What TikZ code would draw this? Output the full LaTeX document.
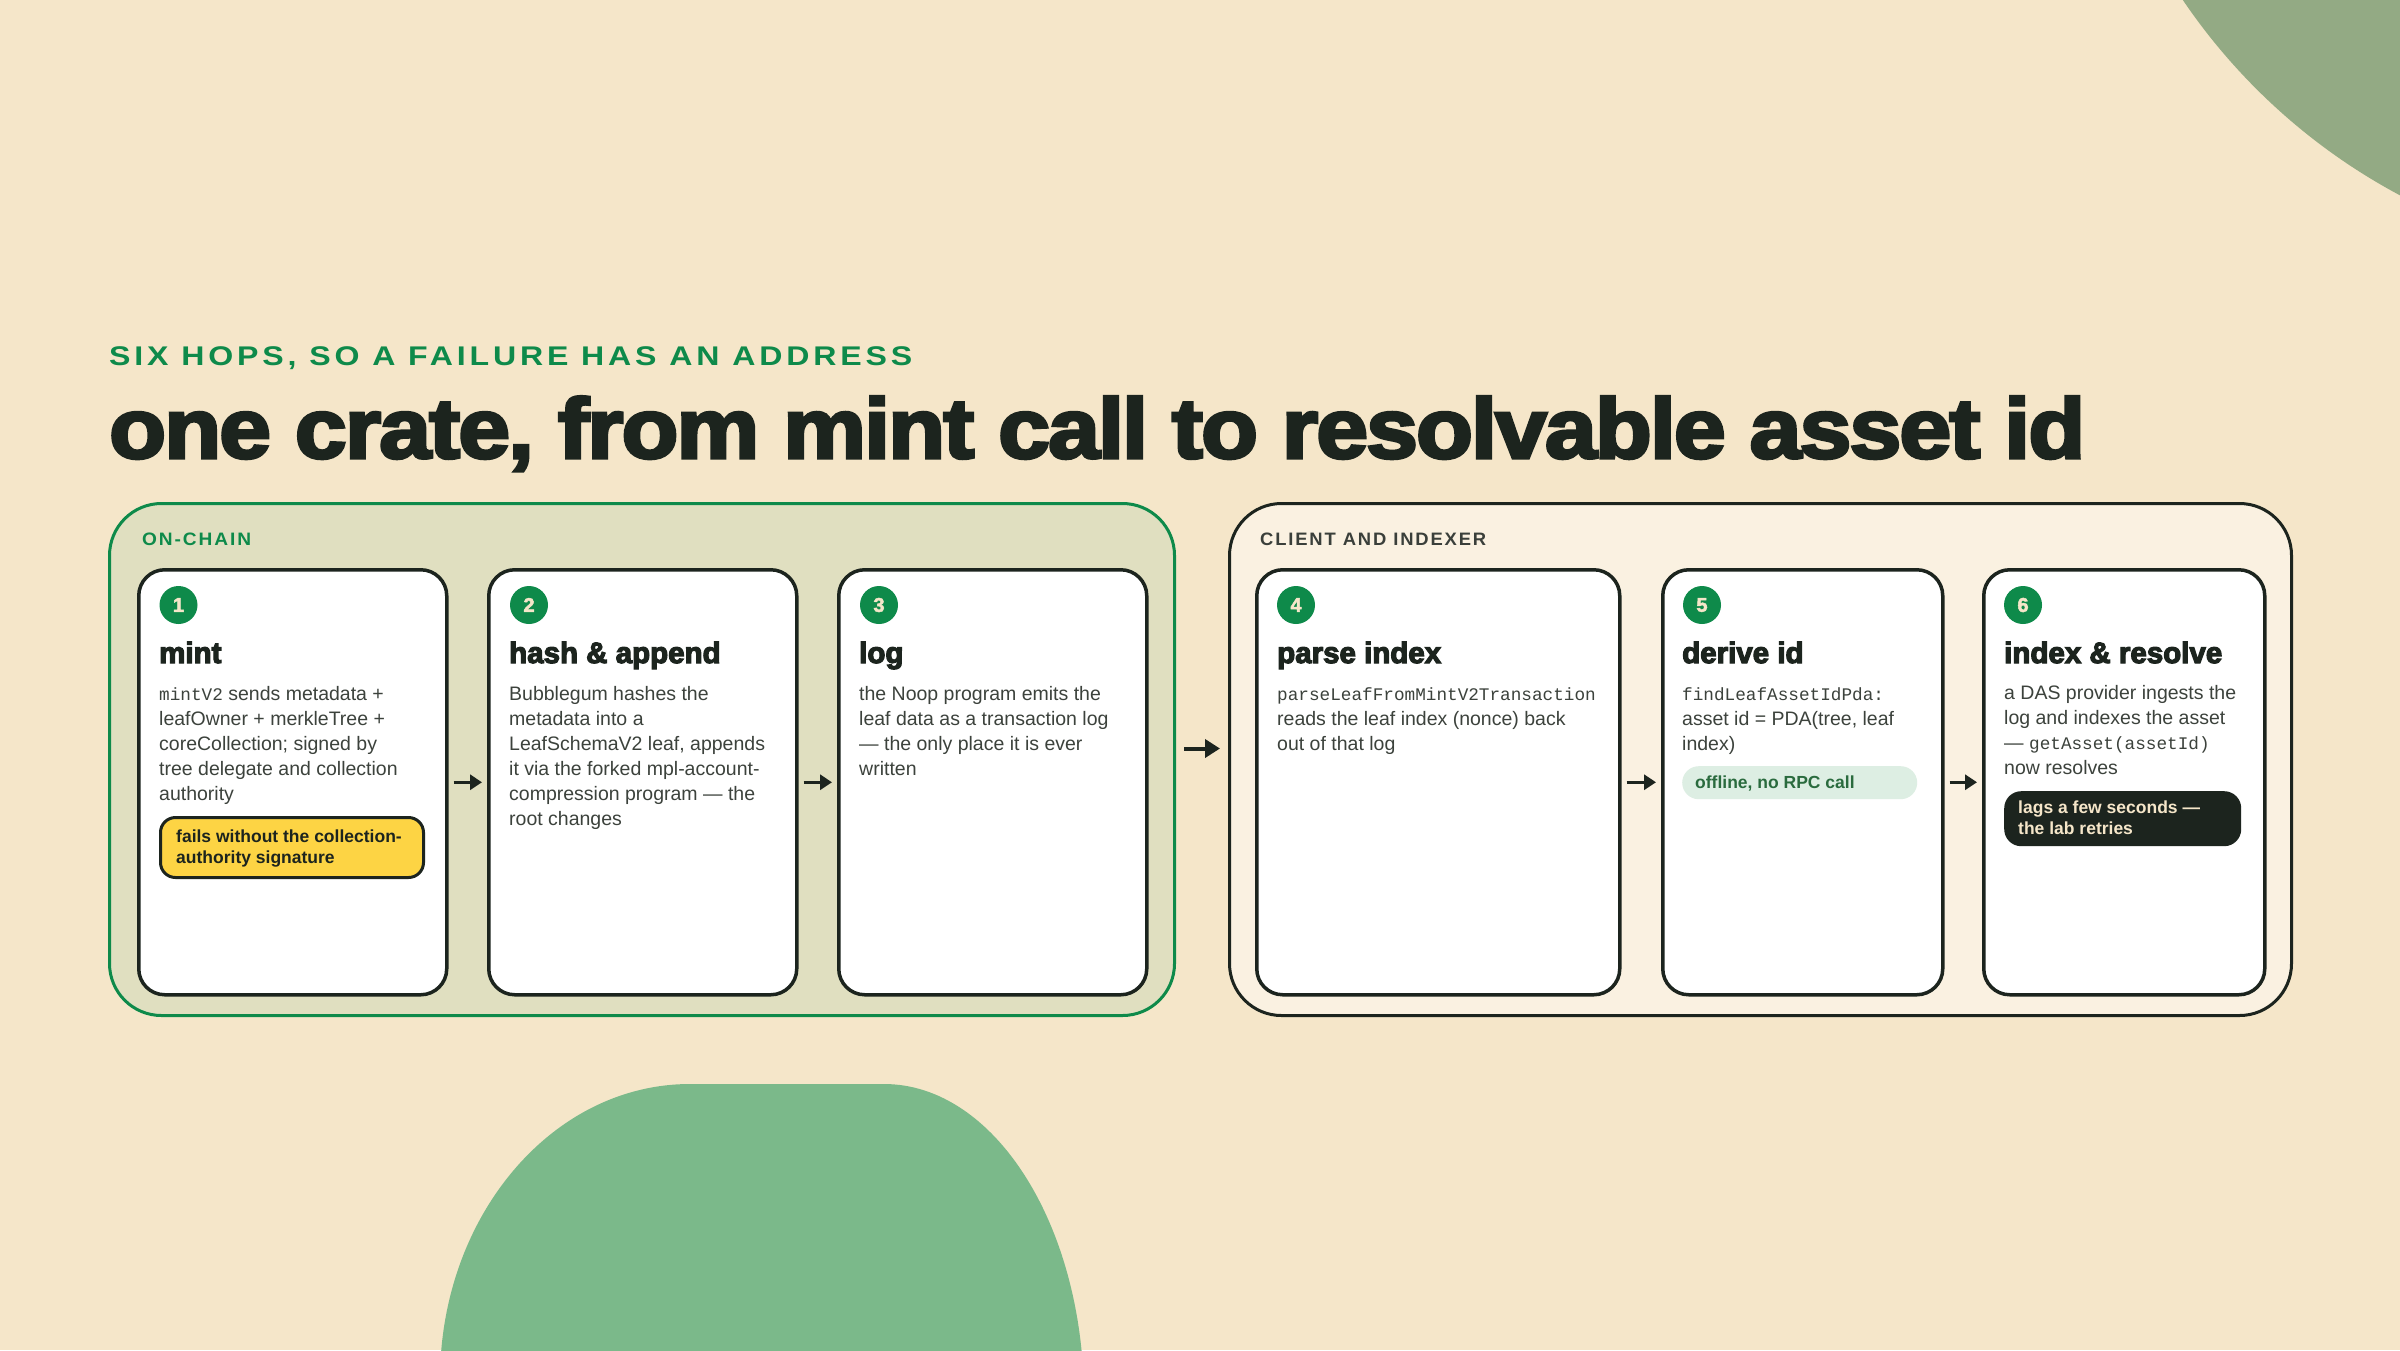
\documentclass[tikz,border=0pt]{standalone}
\usepackage{fontspec}
\usepackage{graphicx}
\setmainfont{Liberation Sans}
\setmonofont{Liberation Mono}
\newfontfamily\heavyfont{Liberation Sans Bold}[FakeBold=4]
\newfontfamily\titlefont{Liberation Sans Bold}[FakeBold=3.5, LetterSpace=-2]
\newfontfamily\badgefont{Liberation Sans Bold}[FakeBold=2.5]
\usetikzlibrary{arrows.meta}
\definecolor{bg}{HTML}{F5E6C9}
\definecolor{ink}{HTML}{1C241E}
\definecolor{greenA}{HTML}{0E8A4A}
\definecolor{oliveA}{HTML}{E0DFC0}
\definecolor{creamB}{HTML}{FAF1E1}
\definecolor{bodyc}{HTML}{3C423C}
\definecolor{labgrey}{HTML}{3A3F3A}
\definecolor{yellowA}{HTML}{FDD444}
\definecolor{mintA}{HTML}{DDEEE3}
\definecolor{mintT}{HTML}{2A6B3E}
\definecolor{sage}{HTML}{93AA84}
\definecolor{leafg}{HTML}{7BB98A}
\newcommand\cmono[1]{{\ttfamily\fontsize{17.7pt}{25pt}\selectfont #1}}
\tikzset{
  panelA/.style={draw=greenA, line width=3pt, fill=oliveA, rounded corners=52pt, anchor=north west, minimum height=512pt, inner sep=0},
  panelB/.style={draw=ink, line width=3pt, fill=creamB, rounded corners=52pt, anchor=north west, minimum height=512pt, inner sep=0},
  card/.style={draw=ink, line width=3.5pt, fill=white, rounded corners=26pt, anchor=north west, minimum height=425pt, inner sep=0},
  badge/.style={circle, fill=greenA, minimum size=38pt, inner sep=0, text=bg, font=\badgefont\fontsize{20pt}{20pt}\selectfont},
  ctitle/.style={anchor=base west, inner sep=0, text=ink, font=\heavyfont\fontsize{29.5pt}{30pt}\selectfont},
  body/.style={anchor=base west, inner sep=0, text=bodyc, font=\fontsize{19.5pt}{25pt}\selectfont},
  lab/.style={anchor=base west, inner sep=0, font=\bfseries\fontsize{18pt}{18pt}\selectfont},
  arr/.style={draw=ink, line width=3.5pt, -{Triangle[length=12pt,width=15pt]}},
  bigarr/.style={draw=ink, line width=4pt, -{Triangle[length=15pt,width=18pt]}},
  pilltext/.style={anchor=base west, inner sep=0, font=\bfseries\fontsize{17.5pt}{21pt}\selectfont},
}
\begin{document}
\begin{tikzpicture}[x=1pt,y=-1pt]
\useasboundingbox (0,0) rectangle (2400,1350);
\fill[bg] (0,0) rectangle (2400,1350);
\begin{scope}
\clip (0,0) rectangle (2400,1350);
\fill[sage] (2684,-339) circle[radius=605pt];
\fill[leafg] (440,1400) -- (440,1380) .. controls (440,1216.5) and (552,1084) .. (690,1084)
  -- (884,1084) .. controls (994.5,1084) and (1084,1225.5) .. (1084,1400) -- cycle;
\end{scope}

% headings
\node[anchor=base west, inner sep=0, text=greenA] (sub) at (109,365)
  {\resizebox{803pt}{\height}{\bfseries\fontsize{27pt}{27pt}\selectfont\addfontfeatures{LetterSpace=12}SIX HOPS, SO A FAILURE HAS AN ADDRESS}};
\node[anchor=base west, inner sep=0, text=ink] (title) at (109,458)
  {\resizebox{1976pt}{\height}{\titlefont\fontsize{85pt}{90pt}\selectfont one crate, from mint call to resolvable asset id}};

% panels
\node[panelA, minimum width=1065pt] (p1) at (108,502) {};
\node[panelB, minimum width=1062pt] (p2) at (1228,502) {};
\node[lab, text=greenA] (l1) at (142,545) {\resizebox{109pt}{\height}{\addfontfeatures{LetterSpace=10}ON-CHAIN}};
\node[lab, text=labgrey] (l2) at (1260,545) {\resizebox{226pt}{\height}{\addfontfeatures{LetterSpace=10}CLIENT AND INDEXER}};

% cards
\node[card, minimum width=308pt] (c1) at (137,568) {};
\node[card, minimum width=308pt] (c2) at (487,568) {};
\node[card, minimum width=308pt] (c3) at (837,568) {};
\node[card, minimum width=363pt] (c4) at (1255,568) {};
\node[card, minimum width=280pt] (c5) at (1661,568) {};
\node[card, minimum width=281pt] (c6) at (1982,568) {};

% badges
\node[badge] (b1) at (178.5,605) {1};
\node[badge] (b2) at (529,605) {2};
\node[badge] (b3) at (879,605) {3};
\node[badge] (b4) at (1296,605) {4};
\node[badge] (b5) at (1702,605) {5};
\node[badge] (b6) at (2023,605) {6};

% titles
\node[ctitle] (t1) at (159,663) {mint};
\node[ctitle] (t2) at (509,663) {hash \& append};
\node[ctitle] (t3) at (859,663) {log};
\node[ctitle] (t4) at (1277,663) {parse index};
\node[ctitle] (t5) at (1682,663) {derive id};
\node[ctitle] (t6) at (2004,663) {index \& resolve};

% body texts
\foreach \t [count=\i from 0] in {{\cmono{mintV2} sends metadata +},{leafOwner + merkleTree +},{coreCollection; signed by},{tree delegate and collection},{authority}}
  \node[body] (ba\i) at (159,700+25*\i) {\t};
\foreach \t [count=\i from 0] in {{Bubblegum hashes the},{metadata into a},{LeafSchemaV2 leaf, appends},{it via the forked mpl-account-},{compression program — the},{root changes}}
  \node[body] (bb\i) at (509,700+25*\i) {\t};
\foreach \t [count=\i from 0] in {{the Noop program emits the},{leaf data as a transaction log},{— the only place it is ever},{written}}
  \node[body] (bc\i) at (859,700+25*\i) {\t};
\foreach \t [count=\i from 0] in {{\cmono{parseLeafFromMintV2Transaction}},{reads the leaf index (nonce) back},{out of that log}}
  \node[body] (bd\i) at (1277,700+25*\i) {\t};
\foreach \t [count=\i from 0] in {{\cmono{findLeafAssetIdPda:}},{asset id = PDA(tree, leaf},{index)}}
  \node[body] (be\i) at (1682,700+25*\i) {\t};
\foreach \t [count=\i from 0] in {{a DAS provider ingests the},{log and indexes the asset},{— \cmono{getAsset(assetId)}},{now resolves}}
  \node[body] (bf\i) at (2004,699+25*\i) {\t};

% pills
\node[draw=ink, line width=3pt, fill=yellowA, rounded corners=15pt, anchor=north west, minimum width=263pt, minimum height=60pt, inner sep=0] (warn) at (159,816) {};
\node[pilltext, text=ink] (w1) at (176,842) {fails without the collection-};
\node[pilltext, text=ink] (w2) at (176,863) {authority signature};
\node[fill=mintA, rounded corners=16.5pt, anchor=north west, minimum width=235pt, minimum height=33pt, inner sep=0] (off) at (1682,766) {};
\node[pilltext, text=mintT] (o1) at (1695,788) {offline, no RPC call};
\node[fill=ink, rounded corners=17pt, anchor=north west, minimum width=237pt, minimum height=55pt, inner sep=0] (lag) at (2004,791) {};
\node[pilltext, text=bg] (g1) at (2018,813) {lags a few seconds —};
\node[pilltext, text=bg] (g2) at (2018,834) {the lab retries};

% arrows
\draw[arr] ([xshift=5pt]c1.east) -- ([xshift=-5pt]c2.west);
\draw[arr] ([xshift=5pt]c2.east) -- ([xshift=-5pt]c3.west);
\draw[arr] ([xshift=5pt]c4.east) -- ([xshift=-5pt]c5.west);
\draw[arr] ([xshift=5pt]c5.east) -- ([xshift=-5pt]c6.west);
\draw[bigarr] ([xshift=8pt,yshift=11pt]p1.east) -- ([xshift=-8pt,yshift=11pt]p2.west);
\end{tikzpicture}
\end{document}
